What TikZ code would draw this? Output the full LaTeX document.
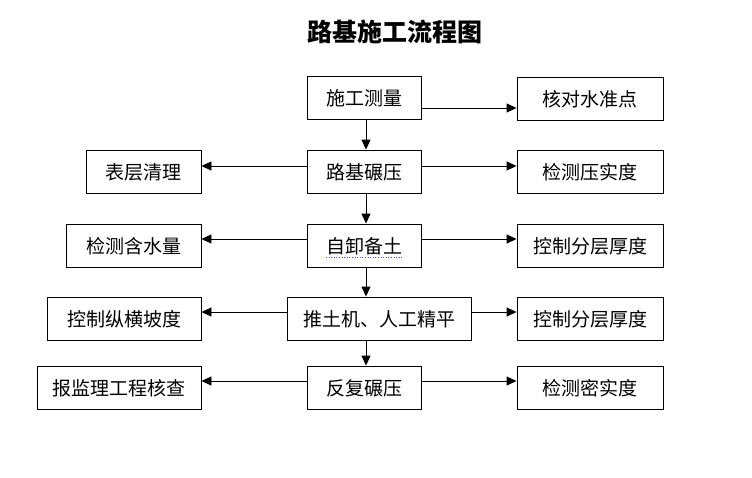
\documentclass[tikz,border=0pt]{standalone}
\usepackage{fontspec}
\setmainfont{Noto Sans CJK SC}
\newfontfamily\cjk{Noto Sans CJK SC}
\usetikzlibrary{arrows.meta}
\begin{document}
\begin{tikzpicture}[x=1pt,y=-1pt,
  box/.style={draw, line width=0.9pt, inner sep=0pt, font=\cjk\fontsize{19}{19}\selectfont, text depth=0pt},
  arr/.style={line width=0.9pt, -{Triangle[length=10pt,width=9pt]}}]
\useasboundingbox (0,0) rectangle (752,477);
\node[font=\cjk\bfseries\fontsize{25}{25}\selectfont] (title) at (395,32) {路基施工流程图};
% center column
\node[box, minimum width=114pt, minimum height=43pt] (A) at (364,97.5) {施工测量};
\node[box, minimum width=114pt, minimum height=43pt] (B) at (364,171.5) {路基碾压};
\node[box, minimum width=114pt, minimum height=43pt] (C) at (364,245.5) {自卸备土};
\node[box, minimum width=184pt, minimum height=43pt] (D) at (379,318.5) {推土机、人工精平};
\node[box, minimum width=114pt, minimum height=43pt] (E) at (364,387.5) {反复碾压};
% left column
\node[box, minimum width=115pt, minimum height=43pt] (L1) at (143.5,171.5) {表层清理};
\node[box, minimum width=135pt, minimum height=43pt] (L2) at (133.5,245.5) {检测含水量};
\node[box, minimum width=154pt, minimum height=43pt] (L3) at (124,318.5) {控制纵横坡度};
\node[box, minimum width=164pt, minimum height=43pt] (L4) at (119,387.5) {报监理工程核查};
% right column
\node[box, minimum width=146pt, minimum height=43pt] (R0) at (590,98.5) {核对水准点};
\node[box, minimum width=146pt, minimum height=43pt] (R1) at (590,171.5) {检测压实度};
\node[box, minimum width=146pt, minimum height=43pt] (R2) at (590,245.5) {控制分层厚度};
\node[box, minimum width=146pt, minimum height=43pt] (R3) at (590,318.5) {控制分层厚度};
\node[box, minimum width=146pt, minimum height=43pt] (R4) at (590,387.5) {检测密实度};
% spell-check underline under 自卸备土
\coordinate (u1) at (326,257);
\coordinate (u2) at (402,257);
\draw[blue!70, dotted, line width=0.6pt] (u1) -- (u2);
% vertical arrows
\draw[arr] ([xshift=2pt]A.south) -- ([xshift=2pt]B.north);
\draw[arr] ([xshift=2pt]B.south) -- ([xshift=2pt]C.north);
\draw[arr] ([xshift=2pt]C.south) -- ([xshift=-13pt]D.north);
\draw[arr] ([xshift=-13pt]D.south) -- ([xshift=2pt]E.north);
% right arrows
\draw[arr] ([yshift=-10.5pt]A.east) -- ([yshift=-9.5pt]R0.west);
\draw[arr] ([yshift=5.5pt]B.east) -- ([yshift=5.5pt]R1.west);
\draw[arr] ([yshift=6.5pt]C.east) -- ([yshift=6.5pt]R2.west);
\draw[arr] ([yshift=6.5pt]D.east) -- ([yshift=6.5pt]R3.west);
\draw[arr] ([yshift=6.5pt]E.east) -- ([yshift=6.5pt]R4.west);
% left arrows
\draw[arr] ([yshift=5.5pt]B.west) -- ([yshift=5.5pt]L1.east);
\draw[arr] ([yshift=6.5pt]C.west) -- ([yshift=6.5pt]L2.east);
\draw[arr] ([yshift=6.5pt]D.west) -- ([yshift=6.5pt]L3.east);
\draw[arr] ([yshift=6.5pt]E.west) -- ([yshift=6.5pt]L4.east);
\end{tikzpicture}
\end{document}
